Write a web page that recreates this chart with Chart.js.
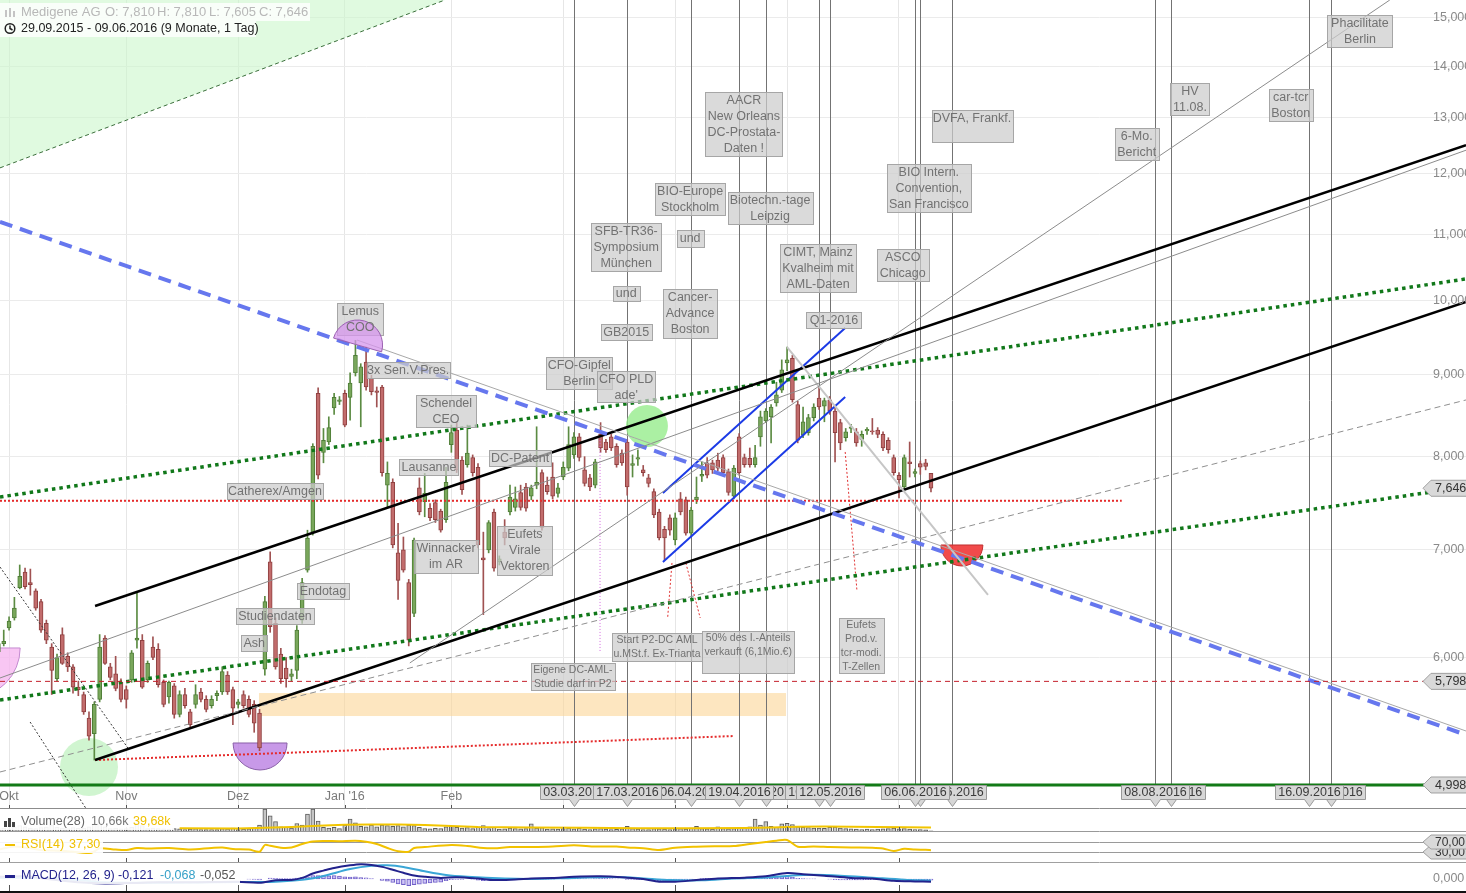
<!DOCTYPE html>
<html>
<head>
<meta charset="utf-8">
<script src="https://cdn.jsdelivr.net/npm/chart.js@4.4.0/dist/chart.umd.min.js"></script>
<style>
  html, body { margin: 0; padding: 0; background: #fff; overflow: hidden; }
  #wrap { position: relative; width: 1466px; height: 893px; }
  canvas { position: absolute; left: 0; }
</style>
</head>
<body>
<div id="wrap">
  <canvas id="main" width="1466" height="809" style="top:0"></canvas>
  <canvas id="vol" width="1466" height="23" style="top:809px"></canvas>
  <canvas id="rsi" width="1466" height="31" style="top:832px"></canvas>
  <canvas id="macd" width="1466" height="30" style="top:863px"></canvas>
</div>
<script>
// Medigene AG, daily candles 29.09.2015 - 09.06.2016 (index = trading day)
const opens = [6.05,6.12,6.26,6.35,6.63,6.78,6.68,6.60,6.50,6.30, 6.09,5.82,6.20,6.01,5.92,5.75,5.69,5.50,5.38,5.65,
  6.17,5.92,5.86,5.79,5.73,5.81,6.15,6.15,5.81,6.09, 6.07,5.79,5.67,5.76,5.53,5.69,5.55,5.61,5.71,5.65,
  5.60,5.68,5.71,5.85,5.73,5.61,5.69,5.65,5.61,5.54, 5.90,6.88,6.30,6.03,5.91,5.84,5.89,6.33,6.80,7.18,
  8.76,8.05,8.17,8.58,8.66,8.76,8.71,9.02,8.89,9.16, 8.95,8.79,8.84,7.68,7.71,6.97,7.00,6.68,6.39,7.65,
  7.50,7.43,7.49,7.40,7.31,8.14,8.31,7.96,7.91,7.99, 7.88,6.92,7.00,7.39,6.88,7.18,7.39,7.44,7.60,7.66,
  7.56,7.68,7.82,7.68,7.77,7.59,7.77,7.87,8.02,8.23, 7.85,7.76,7.68,8.26,8.17,8.23,8.12,8.04,8.17,7.90,
  7.97,7.85,7.76,7.61,7.39,7.21,7.33,7.10,7.53,7.52, 7.17,7.52,7.78,7.93,7.93,7.96,7.99,7.83,7.56,8.23,
  7.99,7.98,7.91,8.23,8.42,8.47,8.64,8.80,9.15,9.21, 8.62,8.25,8.28,8.46,8.70,8.60,8.68,8.54,8.40,8.22,
  8.33,8.29,8.20,8.30,8.30,8.31,8.26,8.19,7.99,7.79, 7.66,7.94,7.81,7.92,7.93,7.81];
const highs = [6.20,6.24,6.36,6.54,6.85,6.82,6.81,6.62,6.52,6.33, 6.12,6.03,6.26,6.04,5.94,5.80,5.71,5.55,5.63,6.20,
  6.19,5.95,6.01,5.82,5.76,6.06,6.58,6.20,5.97,6.18, 6.12,5.81,5.80,5.78,5.72,5.74,5.57,5.77,5.74,5.68,
  5.68,5.72,5.92,5.88,5.75,5.65,5.72,5.68,5.64,5.57, 6.55,6.98,6.35,6.08,6.00,5.90,6.28,6.72,7.20,8.15,
  8.83,8.33,8.47,8.76,8.72,8.80,9.02,9.45,9.14,9.36, 8.99,8.84,8.86,7.94,7.75,7.27,7.13,6.71,7.12,7.76,
  7.81,7.48,7.52,7.42,7.88,8.37,8.40,8.00,8.37,8.02, 7.92,7.18,7.30,7.42,6.94,7.31,7.68,7.66,7.68,7.70,
  7.68,8.35,7.85,7.77,7.93,7.70,7.94,8.35,8.28,8.27, 8.00,7.80,7.97,8.40,8.20,8.26,8.15,8.08,8.20,8.02,
  8.08,7.90,7.80,7.64,7.42,7.24,7.36,7.38,7.60,7.55, 7.44,7.77,7.94,7.99,7.96,8.04,8.02,7.86,7.90,8.27,
  8.03,8.10,8.13,8.54,8.57,8.62,8.90,9.19,9.36,9.25, 8.66,8.59,8.50,8.63,8.84,8.70,8.72,8.58,8.44,8.33,
  8.38,8.33,8.30,8.34,8.45,8.34,8.29,8.22,8.02,7.82, 8.02,8.17,7.86,7.95,7.97,7.81];
const lows = [5.98,6.10,6.24,6.33,6.62,6.62,6.56,6.42,6.22,6.12, 5.69,5.80,5.94,5.88,5.70,5.68,5.53,5.33,5.18,5.63,
  5.94,5.81,5.72,5.63,5.58,5.79,6.08,5.74,5.79,5.98, 5.75,5.59,5.62,5.50,5.51,5.58,5.43,5.58,5.63,5.55,
  5.58,5.64,5.69,5.69,5.45,5.58,5.58,5.51,5.39,5.25, 5.85,6.22,5.90,5.78,5.75,5.80,5.82,6.30,6.78,7.15,
  7.75,7.93,8.14,8.50,8.62,8.35,8.43,8.98,8.35,8.80, 8.74,8.59,7.78,7.44,7.02,6.52,6.78,6.10,6.36,7.36,
  7.34,7.30,7.28,7.18,7.28,8.05,7.82,7.58,7.88,7.78, 7.02,6.38,6.97,6.79,6.85,7.05,7.36,7.40,7.41,7.40,
  7.52,7.64,7.20,7.58,7.53,7.55,7.74,7.84,7.98,7.95, 7.67,7.62,7.65,8.05,8.05,8.07,7.88,7.90,7.57,7.77,
  7.90,7.78,7.66,7.33,7.10,6.90,7.15,7.05,7.36,7.15, 7.14,7.48,7.72,7.76,7.81,7.84,7.79,7.57,7.53,7.79,
  7.88,7.88,7.88,8.12,8.40,8.16,8.60,8.77,9.05,8.65, 8.16,8.22,8.25,8.42,8.56,8.41,8.50,7.94,8.08,8.18,
  8.28,8.12,8.12,8.26,8.26,8.22,8.07,8.04,7.79,7.54, 7.62,7.77,7.77,7.80,7.85,7.605];
const closes = [6.12,6.14,6.32,6.44,6.74,6.64,6.66,6.44,6.24,6.15, 5.89,6.00,5.95,5.92,5.75,5.73,5.55,5.36,5.61,6.09,
  5.95,5.83,5.74,5.65,5.65,6.04,6.17,5.75,5.95,6.00, 5.77,5.61,5.79,5.53,5.69,5.60,5.45,5.69,5.65,5.57,
  5.65,5.70,5.88,5.71,5.58,5.63,5.60,5.53,5.46,5.27, 6.50,6.27,5.92,5.82,5.82,5.86,6.24,6.68,7.12,8.12,
  7.79,8.19,8.34,8.71,8.68,8.37,8.89,9.25,9.10,8.84, 8.78,8.77,7.82,7.81,7.05,6.70,6.80,6.15,7.10,7.39,
  7.59,7.33,7.31,7.20,7.71,8.28,7.85,7.63,8.04,7.82, 7.05,6.90,7.28,6.82,6.91,7.12,7.55,7.53,7.44,7.43,
  7.65,7.71,7.23,7.61,7.56,7.65,7.88,8.14,8.23,7.99, 7.70,7.66,7.94,8.10,8.08,8.10,7.91,7.93,7.66,7.92,
  7.99,7.82,7.70,7.36,7.12,7.12,7.20,7.33,7.39,7.17, 7.41,7.55,7.80,7.79,7.85,7.87,7.82,7.60,7.87,7.82,
  7.91,7.91,7.99,8.47,8.54,8.59,8.74,9.06,9.19,8.68, 8.19,8.41,8.46,8.59,8.59,8.67,8.54,8.28,8.16,8.29,
  8.35,8.16,8.26,8.32,8.29,8.26,8.10,8.08,7.82,7.74, 7.99,7.92,7.83,7.88,7.89,7.646];

// volume in thousand shares
const volumes = [30,35,28,40,55,45,35,30,38,42, 60,40,35,30,38,32,35,45,70,80, 45,30,35,28,30,40,75,55,30,35,
  30,28,25,30,28,22,25,30,22,20, 22,20,30,28,35,22,25,28,35,60, 200,140,90,45,40,35,74,60,156,200,
  95,40,35,40,30,60,112,80,50,45, 60,45,60,55,50,55,45,60,55,40, 30,28,32,30,45,50,40,35,38,30,
  45,55,30,40,25,28,35,30,28,30, 70,35,38,25,28,25,30,35,28,32, 25,22,28,30,25,22,24,28,50,30,
  25,22,20,30,28,25,22,28,30,25, 35,50,30,28,25,45,30,28,30,35, 40,45,112,60,90,50,40,72,75,65,
  45,40,38,35,35,32,40,42,35,30, 28,25,22,25,22,25,28,30,35,28, 30,25,22,20,18,10.66];
const volAvgAt = [34,45,50,55,60,65,70,75,80,85,90,95,100,110,120,130,140,145,150,155,160,165,170,175];
const volAvg = [33,30,36,44,55,62,65,66,60,52,44,42,40,36,32,33,35,40,45,47,46,43,41,39.68];

const rsiAt = [0,3,5,8,12,17,18,19,22,24,26,28,32,36,40,42,44,47,49,50,51,53,55,57,59,61,64,67,69,71,73,75,77,78,80,85,88,91,93,96,
  100,104,108,112,116,118,121,124,127,131,135,138,141,144,146,148,150,153,156,160,164,166,168,170,172,174,175];
const rsiVals = [40,52,48,38,35,26,32,45,40,38,46,44,46,40,46,48,42,40,31,58,55,47,48,62,72,74,73,75,71,62,46,33,31,46,50,58,54,46,45,50,
  50,52,57,52,52,48,45,38,47,51,53,54,62,70,75,78,51,52,50,48,47,44,34,43,40,39,37.3];

const macdAt = [0,5,10,15,20,25,30,35,40,45,49,52,55,57,59,61,63,66,68,70,72,74,76,78,80,83,86,90,93,97,100,104,108,113,118,121,124,127,
  131,135,140,144,148,151,155,160,164,168,172,175];
const macdVals = [0.10,0.12,-0.02,-0.15,-0.20,-0.18,-0.15,-0.15,-0.14,-0.13,-0.17,-0.06,-0.04,0.05,0.25,0.38,0.50,0.62,0.67,0.64,0.55,0.42,
  0.28,0.16,0.10,0.05,0.08,0.02,-0.05,-0.02,0.02,0.05,0.10,0.12,0.06,0.00,-0.12,-0.12,-0.05,0.02,0.06,0.12,0.27,0.22,0.15,0.05,0.02,-0.08,-0.11,-0.121];
const signalAt = [0,10,20,30,45,52,57,61,66,70,73,76,80,84,88,95,100,108,115,120,126,132,138,144,149,153,158,164,170,175];
const signalVals = [0.05,0.05,-0.15,-0.17,-0.14,-0.12,-0.04,0.14,0.45,0.60,0.62,0.55,0.35,0.18,0.10,0.02,0.00,0.05,0.09,0.05,-0.05,-0.06,
  0.02,0.07,0.16,0.19,0.15,0.06,-0.03,-0.068];
const histVals = [0.02,0.03,0.03,0.04,0.05,0.05,0.04,0.03,0.01,-0.01, -0.03,-0.04,-0.04,-0.05,-0.06,-0.06,-0.07,-0.08,-0.06,-0.02,
  -0.01,-0.01,-0.02,-0.02,-0.02,0.00,0.02,0.01,0.01,0.02, 0.01,0.00,0.00,-0.01,-0.01,-0.01,-0.02,-0.01,-0.01,-0.01,
  -0.01,0.00,0.01,0.01,0.00,0.00,0.00,-0.01,-0.02,-0.04, 0.00,0.04,0.03,0.02,0.02,0.02,0.04,0.07,0.10,0.16,
  0.16,0.15,0.14,0.15,0.13,0.10,0.09,0.10,0.07,0.05, 0.02,0.00,-0.06,-0.10,-0.16,-0.22,-0.26,-0.30,-0.26,-0.24,
  -0.20,-0.18,-0.16,-0.14,-0.08,-0.03,-0.02,-0.02,0.00,-0.01, -0.05,-0.08,-0.07,-0.08,-0.08,-0.06,-0.03,-0.01,0.00,0.01,
  0.02,0.01,-0.01,-0.01,-0.01,0.00,0.02,0.04,0.05,0.04, 0.02,0.01,0.02,0.03,0.03,0.02,0.01,0.00,-0.02,-0.02,
  -0.02,-0.03,-0.04,-0.06,-0.08,-0.08,-0.07,-0.05,-0.03,-0.04, -0.02,0.00,0.02,0.03,0.03,0.03,0.02,0.01,0.02,0.02,
  0.02,0.02,0.03,0.06,0.08,0.09,0.10,0.12,0.12,0.08, 0.03,0.02,0.01,0.01,0.00,0.00,-0.01,-0.03,-0.04,-0.04,
  -0.04,-0.04,-0.04,-0.03,-0.03,-0.03,-0.04,-0.04,-0.06,-0.07, -0.05,-0.05,-0.05,-0.05,-0.05,-0.052];

// axis ticks
const priceTicks = [6, 7, 8, 9, 10, 11, 12, 13, 14, 15];
const monthAt = [2, 24, 45, 65, 85, 106, 127, 148, 169];
const monthNames = ['Okt', 'Nov', 'Dez', "Jan '16", 'Feb', 'Mär', 'Apr', 'Mai', 'Jun'];

// event markers (trading-day index) and their dates
const eventAt = [108, 118, 130, 139, 144, 154, 156, 172, 173, 179, 217, 220, 246, 250];
const eventDates = ['03.03.2016', '17.03.2016', '06.04.2016', '19.04.2016', '26.04.2016', '10.05.2016', '12.05.2016',
  '06.06.2016', '07.06.2016', '15.06.2016', '08.08.2016', '11.08.2016', '16.09.2016', '22.09.2016'];
const eventDrawOrder = [0, 2, 4, 1, 3, 5, 6, 8, 9, 7, 11, 10, 13, 12];

// drawn trend lines: [index, price] end points
const trendLines = [
  { a: [0.3, 5.092], b: [275.4, 8.677], color: '#8f8f8f', w: 1, dash: [6, 4] },
  { a: [0.3, 5.798], b: [275.4, 5.798], color: '#c4202c', w: 1, dash: [5, 4] },
  { a: [0.3, 4.998], b: [275.4, 4.998], color: '#137a17', w: 3 },
  { a: [67.3, 9.455], b: [275.4, 5.40], color: '#a8a8a8', w: 1 },
  { a: [0.3, 5.826], b: [275.4, 12.41], color: '#8c8c8c', w: 1 },
  { a: [77.2, 5.953], b: [261.1, 15.39], color: '#8c8c8c', w: 1 },
  { a: [148.0, 9.36], b: [185.7, 6.562], color: '#c6c6c6', w: 2 },
  { a: [0.3, 11.2], b: [275.4, 5.37], color: '#6677ee', w: 4, dash: [13, 8] },
  { a: [18.14, 6.459], b: [275.4, 12.50], color: '#000000', w: 2.5 },
  { a: [18.14, 5.18], b: [275.4, 9.985], color: '#000000', w: 2.5 },
  { a: [0.3, 7.551], b: [275.4, 10.32], color: '#11781a', w: 3.5, dash: [3.5, 4] },
  { a: [0.3, 5.645], b: [275.4, 7.66], color: '#11781a', w: 3.5, dash: [3.5, 4] },
  { a: [0.3, 7.51], b: [210.8, 7.51], color: '#e52b2b', w: 2, dash: [2, 2] },
  { a: [18.14, 5.18], b: [137.8, 5.361], color: '#e52b2b', w: 2, dash: [2, 2] },
  { a: [124.7, 7.594], b: [158.9, 9.619], color: '#1c3be6', w: 2 },
  { a: [124.7, 6.879], b: [158.9, 8.714], color: '#1c3be6', w: 2 },
  { a: [126.4, 6.870], b: [125.6, 6.358], color: '#e03030', w: 1, dash: [2, 2] },
  { a: [129.0, 6.870], b: [131.7, 6.349], color: '#e03030', w: 1, dash: [2, 2] },
  { a: [158.9, 8.054], b: [161.1, 6.609], color: '#e03030', w: 1, dash: [2, 2] },
  { a: [112.9, 8.194], b: [112.9, 6.047], color: '#d46be0', w: 1, dash: [1, 2] },
  { a: [0.3, 6.83], b: [24.3, 5.27], color: '#333333', w: 1, dash: [2, 2] },
  { a: [5.95, 5.47], b: [16.5, 4.829], color: '#333333', w: 1, dash: [2, 2] }
];
const greenWedge = { a: [0.3, 12.10], b: [83.8, 15.39] };

const shapes = [
  { at: -5.3, price: 6.082, r: 50, half: 'bottom', fill: 'rgba(246,184,240,0.8)', stroke: '#c48ad0' },
  { at: 67.4, price: 9.388, r: 25, half: 'top', tilt: 0.28, fill: 'rgba(214,150,236,0.75)', stroke: '#9a60b0' },
  { at: 49.1, price: 5.308, r: 27, half: 'bottom', fill: 'rgba(186,128,226,0.8)', stroke: '#8a60a8' },
  { at: 17.0, price: 5.128, r: 29, fill: 'rgba(196,242,196,0.8)' },
  { at: 121.7, price: 8.359, r: 21, fill: 'rgba(150,236,140,0.8)' },
  { at: 180.8, price: 7.049, r: 21, half: 'bottom', fill: 'rgba(240,60,60,0.92)', stroke: '#c03030' }
];
const zone = { from: 48.9, to: 147.8, top: 5.702, bottom: 5.517 };

const notes = [
  { at: 67.9, price: 9.97, text: 'Lemus\nCOO', w: 46, h: 32 },
  { at: 76.9, price: 9.16, text: '3x Sen.V.Pres.', w: 83, h: 16 },
  { at: 84.0, price: 8.74, text: 'Schendel\nCEO', w: 60, h: 32 },
  { at: 80.8, price: 7.97, text: 'Lausanne', w: 59, h: 16 },
  { at: 51.9, price: 7.70, text: 'Catherex/Amgen', w: 96, h: 16 },
  { at: 84.0, price: 7.10, text: 'Winnacker\nim AR', w: 64, h: 33 },
  { at: 60.9, price: 6.675, text: 'Endotag', w: 52, h: 16 },
  { at: 51.9, price: 6.44, text: 'Studiendaten', w: 78, h: 16 },
  { at: 48.0, price: 6.196, text: 'Ash', w: 26, h: 16 },
  { at: 97.9, price: 8.077, text: 'DC-Patent', w: 62, h: 16 },
  { at: 98.8, price: 7.244, text: 'Eufets\nVirale\nVektoren', w: 55, h: 49 },
  { at: 109.0, price: 9.228, text: 'CFO-Gipfel\nBerlin', w: 66, h: 32 },
  { at: 117.8, price: 9.045, text: "CFO PLD\nade'", w: 58, h: 31 },
  { at: 117.8, price: 9.674, text: 'GB2015', w: 51, h: 16 },
  { at: 117.8, price: 10.216, text: 'und', w: 27, h: 15 },
  { at: 117.8, price: 11.18, text: 'SFB-TR36-\nSymposium\nMünchen', w: 70, h: 48 },
  { at: 129.8, price: 11.07, text: 'und', w: 27, h: 17 },
  { at: 129.8, price: 11.84, text: 'BIO-Europe\nStockholm', w: 70, h: 32 },
  { at: 129.8, price: 10.17, text: 'Cancer-\nAdvance\nBoston', w: 54, h: 49 },
  { at: 139.9, price: 13.49, text: 'AACR\nNew Orleans\nDC-Prostata-\nDaten !', w: 77, h: 64 },
  { at: 144.8, price: 11.69, text: 'Biotechn.-tage\nLeipzig', w: 85, h: 32 },
  { at: 153.8, price: 10.85, text: 'CIMT, Mainz\nKvalheim mit\nAML-Daten', w: 76, h: 48 },
  { at: 156.8, price: 9.84, text: 'Q1-2016', w: 55, h: 16 },
  { at: 169.7, price: 10.77, text: 'ASCO\nChicago', w: 52, h: 32 },
  { at: 174.6, price: 12.17, text: 'BIO Intern.\nConvention,\nSan Francisco', w: 84, h: 48 },
  { at: 182.7, price: 13.15, text: 'DVFA, Frankf.', w: 81, h: 32 },
  { at: 213.6, price: 12.81, text: '6-Mo.\nBericht', w: 44, h: 32 },
  { at: 223.6, price: 13.66, text: 'HV\n11.08.', w: 39, h: 32 },
  { at: 242.5, price: 13.55, text: 'car-tcr\nBoston', w: 44, h: 32 },
  { at: 255.5, price: 15.06, text: 'Phacilitate\nBerlin', w: 65, h: 32 },
  { at: 123.6, price: 6.214, text: 'Start P2-DC AML\nu.MSt.f. Ex-Trianta', w: 90, h: 28, small: true },
  { at: 140.7, price: 6.232, text: '50% des I.-Anteils\nverkauft (6,1Mio.€)', w: 92, h: 42, small: true },
  { at: 161.9, price: 6.349, text: 'Eufets\nProd.v.\ntcr-modi.\nT-Zellen', w: 45, h: 55, small: true },
  { at: 107.8, price: 5.953, text: 'Eigene DC-AML-\nStudie darf in P2', w: 84, h: 27, small: true }
];

const xMin = 0.3, xMax = 275.4;
const FONT = 'Arial, "Liberation Sans", sans-serif';
Chart.defaults.font.family = FONT;

function fmt(v, d) { return v.toFixed(d).replace('.', ','); }
function pts(at, vals) { return at.map((x, i) => ({ x: x, y: vals[i] })); }

function xScale(gridOn) {
  return {
    type: 'linear', min: xMin, max: xMax, offset: false,
    grid: { display: gridOn, color: '#e6e6e6', offset: false, drawTicks: false },
    border: { display: false }, ticks: { display: false },
    afterBuildTicks: ax => { ax.ticks = monthAt.map(v => ({ value: v })); }
  };
}
const baseOpts = {
  responsive: false, animation: false, devicePixelRatio: 1, events: [],
  layout: { padding: 0 },
  plugins: { legend: { display: false }, tooltip: { enabled: false } }
};

function tag(ctx, y, text, h) {
  ctx.beginPath();
  ctx.moveTo(1423, y);
  ctx.lineTo(1431, y - h / 2);
  ctx.lineTo(1470, y - h / 2);
  ctx.lineTo(1470, y + h / 2);
  ctx.lineTo(1431, y + h / 2);
  ctx.closePath();
  ctx.fillStyle = '#d9d9d9';
  ctx.fill();
  ctx.strokeStyle = '#a0a0a0';
  ctx.lineWidth = 1;
  ctx.stroke();
  ctx.fillStyle = '#333';
  ctx.textAlign = 'left';
  ctx.textBaseline = 'middle';
  ctx.fillText(text, 1435, y + 0.5);
}

function monthTicks(ctx, chart, y0, y1) {
  const x = chart.scales.x;
  ctx.strokeStyle = '#555';
  ctx.lineWidth = 1;
  monthAt.forEach(m => {
    const X = Math.round(x.getPixelForValue(m)) + 0.5;
    ctx.beginPath(); ctx.moveTo(X, y0); ctx.lineTo(X, y1); ctx.stroke();
  });
}

const mainOverlay = {
  id: 'mainOverlay',
  beforeDatasetsDraw(chart) {
    const { ctx, scales: { x, y } } = chart;
    const px = v => x.getPixelForValue(v), py = v => y.getPixelForValue(v);
    ctx.save();
    ctx.fillStyle = 'rgba(252,214,150,0.6)';
    ctx.fillRect(px(zone.from), py(zone.top), px(zone.to) - px(zone.from), py(zone.bottom) - py(zone.top));
    ctx.strokeStyle = '#737373';
    ctx.lineWidth = 1;
    eventAt.forEach(e => {
      const X = Math.round(px(e)) + 0.5;
      ctx.beginPath(); ctx.moveTo(X, 0); ctx.lineTo(X, chart.chartArea.bottom - 8); ctx.stroke();
    });
    shapes.filter(s => s.half !== 'top').forEach(s => drawShape(ctx, s, px, py));
    ctx.restore();
  },
  afterDatasetsDraw(chart) {
    const { ctx, scales: { x, y }, chartArea } = chart;
    const px = v => x.getPixelForValue(v), py = v => y.getPixelForValue(v);
    const bottom = chartArea.bottom;
    ctx.save();

    // month labels
    ctx.font = '12.5px ' + FONT;
    ctx.fillStyle = '#7a7a7a';
    ctx.textAlign = 'center';
    ctx.textBaseline = 'middle';
    monthAt.forEach((m, i) => ctx.fillText(monthNames[i], px(m), bottom - 12));
    monthTicks(ctx, chart, bottom - 4, bottom);

    // annotation boxes
    notes.forEach(n => {
      const cx = px(n.at), top = Math.round(py(n.price)) + 0.5;
      const left = Math.round(cx - n.w / 2) + 0.5;
      ctx.fillStyle = 'rgba(204,204,204,0.72)';
      ctx.fillRect(left, top, n.w, n.h);
      ctx.strokeStyle = '#a6a6a6';
      ctx.lineWidth = 1;
      ctx.strokeRect(left, top, n.w, n.h);
    });
    // the Lemus dome sits over its box
    shapes.filter(s => s.half === 'top').forEach(s => drawShape(ctx, s, px, py));
    notes.forEach(n => {
      const cx = px(n.at), top = Math.round(py(n.price)) + 0.5;
      ctx.fillStyle = '#727272';
      ctx.textAlign = 'center';
      ctx.textBaseline = 'middle';
      const lh = n.small ? 14 : 16;
      ctx.font = (n.small ? '10.5px ' : '12.5px ') + FONT;
      const off = (n.h === 15 || n.h === 17) ? n.h / 2 : lh / 2;
      n.text.split('\n').forEach((t, k) => ctx.fillText(t, cx, top + off + k * lh));
    });

    // event date boxes
    ctx.font = '12.5px ' + FONT;
    eventDrawOrder.forEach(k => {
      const X = Math.round(px(eventAt[k])) + 0.5;
      const bTop = bottom - 23.5, bw = 68, bh = 14;
      ctx.beginPath();
      ctx.moveTo(X - bw / 2, bTop);
      ctx.lineTo(X + bw / 2, bTop);
      ctx.lineTo(X + bw / 2, bTop + bh);
      ctx.lineTo(X + 5, bTop + bh);
      ctx.lineTo(X, bTop + bh + 7);
      ctx.lineTo(X - 5, bTop + bh);
      ctx.lineTo(X - bw / 2, bTop + bh);
      ctx.closePath();
      ctx.fillStyle = '#d7d7d7';
      ctx.fill();
      ctx.strokeStyle = '#999';
      ctx.stroke();
      ctx.fillStyle = '#3c3c3c';
      ctx.textAlign = 'center';
      ctx.textBaseline = 'middle';
      ctx.fillText(eventDates[k], X, bTop + bh / 2 + 0.5);
    });

    // bottom axis line
    ctx.strokeStyle = '#8c8c8c';
    ctx.beginPath(); ctx.moveTo(0, bottom - 0.5); ctx.lineTo(1466, bottom - 0.5); ctx.stroke();

    // price labels
    ctx.font = '12.5px ' + FONT;
    ctx.fillStyle = '#8a8a8a';
    ctx.textAlign = 'left';
    ctx.textBaseline = 'middle';
    priceTicks.forEach(v => ctx.fillText(fmt(v, 3), 1433, py(v)));
    tag(ctx, py(closes[closes.length - 1]), fmt(closes[closes.length - 1], 3), 16);
    tag(ctx, py(5.798), fmt(5.798, 3), 16);
    tag(ctx, py(4.998), fmt(4.998, 3), 16);

    // header
    ctx.fillStyle = 'rgba(255,255,255,0.82)';
    ctx.fillRect(0, 3, 310, 18);
    ctx.fillRect(0, 21, 256, 16);
    ctx.fillStyle = '#c4c4c4';
    [[5, 10, 7], [9, 8, 9], [13, 11, 6]].forEach(b => ctx.fillRect(b[0], b[1], 2, b[2]));
    ctx.font = '13px ' + FONT;
    ctx.fillStyle = '#b8b8b8';
    ctx.textBaseline = 'middle';
    ctx.fillText('Medigene AG', 21, 12.5);
    ctx.fillText('O: 7,810', 105, 12.5);
    ctx.fillText('H: 7,810', 157, 12.5);
    ctx.fillText('L: 7,605', 209, 12.5);
    ctx.fillText('C: 7,646', 259, 12.5);
    ctx.strokeStyle = '#222';
    ctx.lineWidth = 1.5;
    ctx.beginPath(); ctx.arc(10, 28.5, 4.8, 0, 2 * Math.PI); ctx.stroke();
    ctx.beginPath(); ctx.moveTo(10, 25.5); ctx.lineTo(10, 28.5); ctx.lineTo(12.5, 30); ctx.stroke();
    ctx.font = '12.5px ' + FONT;
    ctx.fillStyle = '#222';
    ctx.fillText('29.09.2015 - 09.06.2016 (9 Monate, 1 Tag)', 21, 28.5);
    ctx.restore();
  }
};

function drawShape(ctx, s, px, py) {
  const cx = px(s.at), cy = py(s.price), t = s.tilt || 0;
  ctx.beginPath();
  if (s.half === 'top') ctx.arc(cx, cy, s.r, Math.PI + t, 2 * Math.PI + t);
  else if (s.half === 'bottom') ctx.arc(cx, cy, s.r, t, Math.PI + t);
  else ctx.arc(cx, cy, s.r, 0, 2 * Math.PI);
  ctx.closePath();
  ctx.fillStyle = s.fill;
  ctx.fill();
  if (s.stroke) { ctx.strokeStyle = s.stroke; ctx.lineWidth = 1; ctx.stroke(); }
}

const upCandle = opens.map((o, i) => closes[i] >= o);
new Chart(document.getElementById('main'), {
  type: 'bar',
  data: {
    datasets: [
      ...trendLines.map(l => ({
        type: 'line', data: [{ x: l.a[0], y: l.a[1] }, { x: l.b[0], y: l.b[1] }],
        borderColor: l.color, borderWidth: l.w, borderDash: l.dash || [], borderCapStyle: 'butt',
        pointRadius: 0, fill: false, tension: 0, order: 1
      })),
      {
        type: 'line', data: [{ x: greenWedge.a[0], y: greenWedge.a[1] }, { x: greenWedge.b[0], y: greenWedge.b[1] }],
        borderColor: '#3a6e3a', borderWidth: 1, borderDash: [4, 3], backgroundColor: 'rgba(204,246,204,0.6)',
        pointRadius: 0, fill: 'end', tension: 0, order: 20
      },
      {
        data: lows.map((l, i) => ({ x: i, y: [l, highs[i]] })),
        backgroundColor: upCandle.map(u => u ? '#5b8b42' : '#a05252'),
        barThickness: 1, grouped: false, order: 6
      },
      {
        data: opens.map((o, i) => ({ x: i, y: [o, closes[i]] })),
        backgroundColor: upCandle.map(u => u ? '#79a75b' : '#c26c6c'),
        borderColor: upCandle.map(u => u ? '#4e7d36' : '#8f4040'),
        borderWidth: 1, borderSkipped: false, barThickness: 4, minBarLength: 1, grouped: false, order: 5
      }
    ]
  },
  options: {
    ...baseOpts,
    scales: {
      x: xScale(true),
      y: {
        type: 'logarithmic', position: 'right', min: 4.829, max: 15.39,
        grid: { color: '#ebebeb', drawTicks: false }, border: { display: false }, ticks: { display: false },
        afterBuildTicks: ax => { ax.ticks = priceTicks.map(v => ({ value: v })); }
      }
    }
  },
  plugins: [mainOverlay]
});

// volume panel
new Chart(document.getElementById('vol'), {
  type: 'bar',
  data: {
    datasets: [
      { type: 'line', data: pts(volAvgAt, volAvg), borderColor: '#f2c500', borderWidth: 2, pointRadius: 0, tension: 0, order: 1 },
      { data: volumes.map((v, i) => ({ x: i, y: v })), backgroundColor: '#c6c6c6', borderColor: '#5c5c5c', borderWidth: 1,
        borderSkipped: 'start', barThickness: 4, order: 2 }
    ]
  },
  options: {
    ...baseOpts,
    scales: { x: xScale(false), y: { min: 0, max: 200, display: false } }
  },
  plugins: [{
    id: 'volLabel',
    afterDatasetsDraw(chart) {
      const ctx = chart.ctx;
      ctx.save();
      monthTicks(ctx, chart, 18, 23);
      ctx.strokeStyle = '#999';
      ctx.beginPath(); ctx.moveTo(0, 22.5); ctx.lineTo(1466, 22.5); ctx.stroke();
      ctx.fillStyle = 'rgba(255,255,255,0.92)';
      ctx.fillRect(0, 4, 174, 17);
      ctx.fillStyle = '#444';
      [[4, 9, 3], [8, 6, 6], [12, 10, 2]].forEach(b => ctx.fillRect(b[0], 6 + b[1] - 3, 3, b[2] + 3));
      ctx.font = '12.5px ' + FONT;
      ctx.textBaseline = 'middle';
      ctx.textAlign = 'left';
      ctx.fillStyle = '#666';
      ctx.fillText('Volume(28)', 21, 12.5);
      ctx.fillStyle = '#777';
      ctx.fillText('10,66k', 91, 12.5);
      ctx.fillStyle = '#f0c000';
      ctx.fillText('39,68k', 133, 12.5);
      ctx.restore();
    }
  }]
});

// RSI panel
new Chart(document.getElementById('rsi'), {
  type: 'line',
  data: { datasets: [{ data: pts(rsiAt, rsiVals), borderColor: '#f2c200', borderWidth: 2, pointRadius: 0, tension: 0.3 }] },
  options: {
    ...baseOpts,
    scales: { x: xScale(false), y: { min: -14, max: 110, display: false } }
  },
  plugins: [{
    id: 'rsiLevels',
    beforeDatasetsDraw(chart) {
      const { ctx, scales: { y } } = chart;
      ctx.save();
      ctx.strokeStyle = '#9a9a9a';
      ctx.lineWidth = 1;
      [70, 30].forEach(v => {
        const Y = Math.round(y.getPixelForValue(v)) + 0.5;
        ctx.beginPath(); ctx.moveTo(0, Y); ctx.lineTo(1466, Y); ctx.stroke();
      });
      ctx.restore();
    },
    afterDatasetsDraw(chart) {
      const { ctx, scales: { y } } = chart;
      ctx.save();
      monthTicks(ctx, chart, 26, 31);
      ctx.strokeStyle = '#a0a0a0';
      ctx.beginPath(); ctx.moveTo(0, 30.5); ctx.lineTo(1466, 30.5); ctx.stroke();
      ctx.fillStyle = 'rgba(255,255,255,0.9)';
      ctx.fillRect(0, 5, 103, 16);
      ctx.fillStyle = '#f0c000';
      ctx.fillRect(5, 12, 10, 2);
      ctx.font = '12.5px ' + FONT;
      ctx.textBaseline = 'middle';
      ctx.textAlign = 'left';
      ctx.fillText('RSI(14)', 21, 13);
      ctx.fillText('37,30', 69, 13);
      ctx.font = '12px ' + FONT;
      tag(ctx, y.getPixelForValue(30), '30,00', 14);
      tag(ctx, y.getPixelForValue(70), '70,00', 14);
      ctx.restore();
    }
  }]
});

// MACD panel
new Chart(document.getElementById('macd'), {
  type: 'bar',
  data: {
    datasets: [
      { type: 'line', data: pts(macdAt, macdVals), borderColor: '#22228c', borderWidth: 2, pointRadius: 0, tension: 0.3, order: 1 },
      { type: 'line', data: pts(signalAt, signalVals), borderColor: '#3aa6d6', borderWidth: 2, pointRadius: 0, tension: 0.3, order: 2 },
      { data: histVals.map((v, i) => ({ x: i, y: v })), backgroundColor: 'rgba(204,194,246,0.9)', borderColor: '#7060c8',
        borderWidth: 1, borderSkipped: false, barThickness: 4, order: 3 }
    ]
  },
  options: {
    ...baseOpts,
    scales: { x: xScale(false), y: { min: -0.636, max: 0.727, display: false } }
  },
  plugins: [{
    id: 'macdLabel',
    afterDatasetsDraw(chart) {
      const { ctx, scales: { y } } = chart;
      ctx.save();
      monthTicks(ctx, chart, 22, 28);
      ctx.fillStyle = '#111';
      ctx.fillRect(0, 28, 1466, 2);
      ctx.fillStyle = 'rgba(255,255,255,0.9)';
      ctx.fillRect(0, 5, 240, 16);
      ctx.fillStyle = '#22228c';
      ctx.fillRect(5, 12, 10, 3);
      ctx.font = '12.5px ' + FONT;
      ctx.textBaseline = 'middle';
      ctx.textAlign = 'left';
      ctx.fillText('MACD(12, 26, 9)', 21, 13);
      ctx.fillText('-0,121', 118, 13);
      ctx.fillStyle = '#35a0c8';
      ctx.fillText('-0,068', 160, 13);
      ctx.fillStyle = '#555';
      ctx.fillText('-0,052', 200, 13);
      ctx.fillStyle = '#8a8a8a';
      ctx.fillText('0,000', 1433, y.getPixelForValue(0));
      ctx.restore();
    }
  }]
});
</script>
</body>
</html>
